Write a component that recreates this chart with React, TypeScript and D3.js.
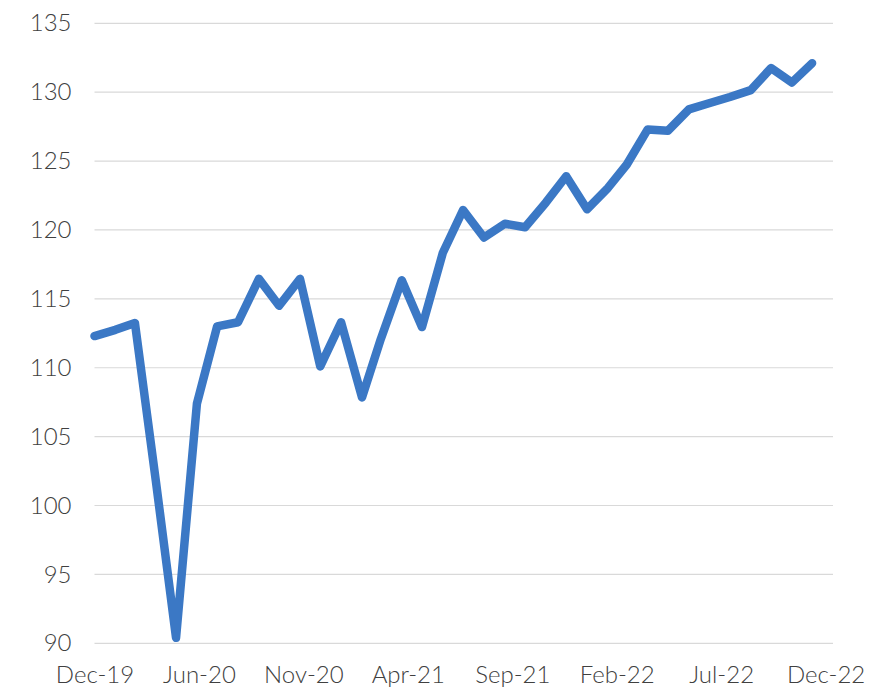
import { useEffect, useRef } from "react";
import * as d3 from "d3";

// monthly index values, Dec-19 .. Nov-22
const months = [
    "2019-12", "2020-01", "2020-02", "2020-03", "2020-04", "2020-05",
    "2020-06", "2020-07", "2020-08", "2020-09", "2020-10", "2020-11",
    "2020-12", "2021-01", "2021-02", "2021-03", "2021-04", "2021-05",
    "2021-06", "2021-07", "2021-08", "2021-09", "2021-10", "2021-11",
    "2021-12", "2022-01", "2022-02", "2022-03", "2022-04", "2022-05",
    "2022-06", "2022-07", "2022-08", "2022-09", "2022-10", "2022-11",
];
const values = [
    112.3, 112.75, 113.25, 101.8, 90.4, 107.4,
    113.0, 113.3, 116.45, 114.5, 116.45, 110.1,
    113.3, 107.85, 112.1, 116.35, 112.95, 118.35,
    121.45, 119.45, 120.45, 120.2, 122.0, 123.9,
    121.5, 123.05, 124.75, 127.3, 127.2, 128.75,
    129.2, 129.65, 130.15, 131.75, 130.7, 132.1,
];

// x axis: date ticks every 155 days
const xTickDates = [
    "2019-12-31", "2020-06-03", "2020-11-05", "2021-04-09",
    "2021-09-11", "2022-02-13", "2022-07-18", "2022-12-20",
];
const xTickLabels = ["Dec-19", "Jun-20", "Nov-20", "Apr-21", "Sep-21", "Feb-22", "Jul-22", "Dec-22"];
const yTicks = [90, 95, 100, 105, 110, 115, 120, 125, 130, 135];

export default function App() {
    const svgRef = useRef<SVGSVGElement | null>(null);

    useEffect(() => {
        if (!svgRef.current) return;
        d3.select(svgRef.current).selectAll("*").remove();

        const parseMonth = d3.timeParse("%Y-%m");
        const parseDay = d3.timeParse("%Y-%m-%d");
        // points sit at month end
        const data = months.map((m, i) => ({
            date: d3.timeDay.offset(d3.timeMonth.offset(parseMonth(m)!, 1), -1),
            value: values[i],
        }));

        const svg = d3.select(svgRef.current);

        const x = d3
            .scaleTime()
            .domain([parseDay("2019-12-31")!, parseDay("2022-12-31")!])
            .range([94.5, 833]);

        const y = d3.scaleLinear().domain([90, 135]).range([643.3, 23.3]);

        // grid lines
        svg.append("g")
            .selectAll("line")
            .data(yTicks)
            .enter()
            .append("line")
            .attr("x1", x.range()[0])
            .attr("x2", x.range()[1])
            .attr("y1", (d) => y(d))
            .attr("y2", (d) => y(d))
            .attr("stroke", "#d9d9d9")
            .attr("stroke-width", 1.2);

        // y axis labels
        svg.append("g")
            .attr("transform", `translate(${x.range()[0]},0)`)
            .call(d3.axisLeft(y).tickValues(yTicks).tickSize(0).tickPadding(23))
            .call((g) => g.select(".domain").remove())
            .selectAll("text")
            .attr("font-family", "Lato, sans-serif")
            .attr("font-weight", 300)
            .attr("font-size", "24px")
            .attr("fill", "#404040");

        // x axis labels
        const tickDates = xTickDates.map((d) => parseDay(d)!);
        svg.append("g")
            .attr("transform", `translate(0,${y(90)})`)
            .call(
                d3
                    .axisBottom(x)
                    .tickValues(tickDates)
                    .tickSize(0)
                    .tickPadding(23)
                    .tickFormat((_d, i) => xTickLabels[i])
            )
            .call((g) => g.select(".domain").remove())
            .selectAll("text")
            .attr("font-family", "Lato, sans-serif")
            .attr("font-weight", 300)
            .attr("font-size", "24px")
            .attr("fill", "#404040");

        // line
        const line = d3
            .line<{ date: Date; value: number }>()
            .x((d) => x(d.date))
            .y((d) => y(d.value));

        svg.append("path")
            .datum(data)
            .attr("d", line)
            .attr("fill", "none")
            .attr("stroke", "#3b78c5")
            .attr("stroke-width", 8.5)
            .attr("stroke-linejoin", "round")
            .attr("stroke-linecap", "round");
    }, []);

    return (
        <>
            <style>{"body{margin:0}"}</style>
            <svg ref={svgRef} width={888} height={700} style={{ display: "block", background: "#fff" }} />
        </>
    );
}
